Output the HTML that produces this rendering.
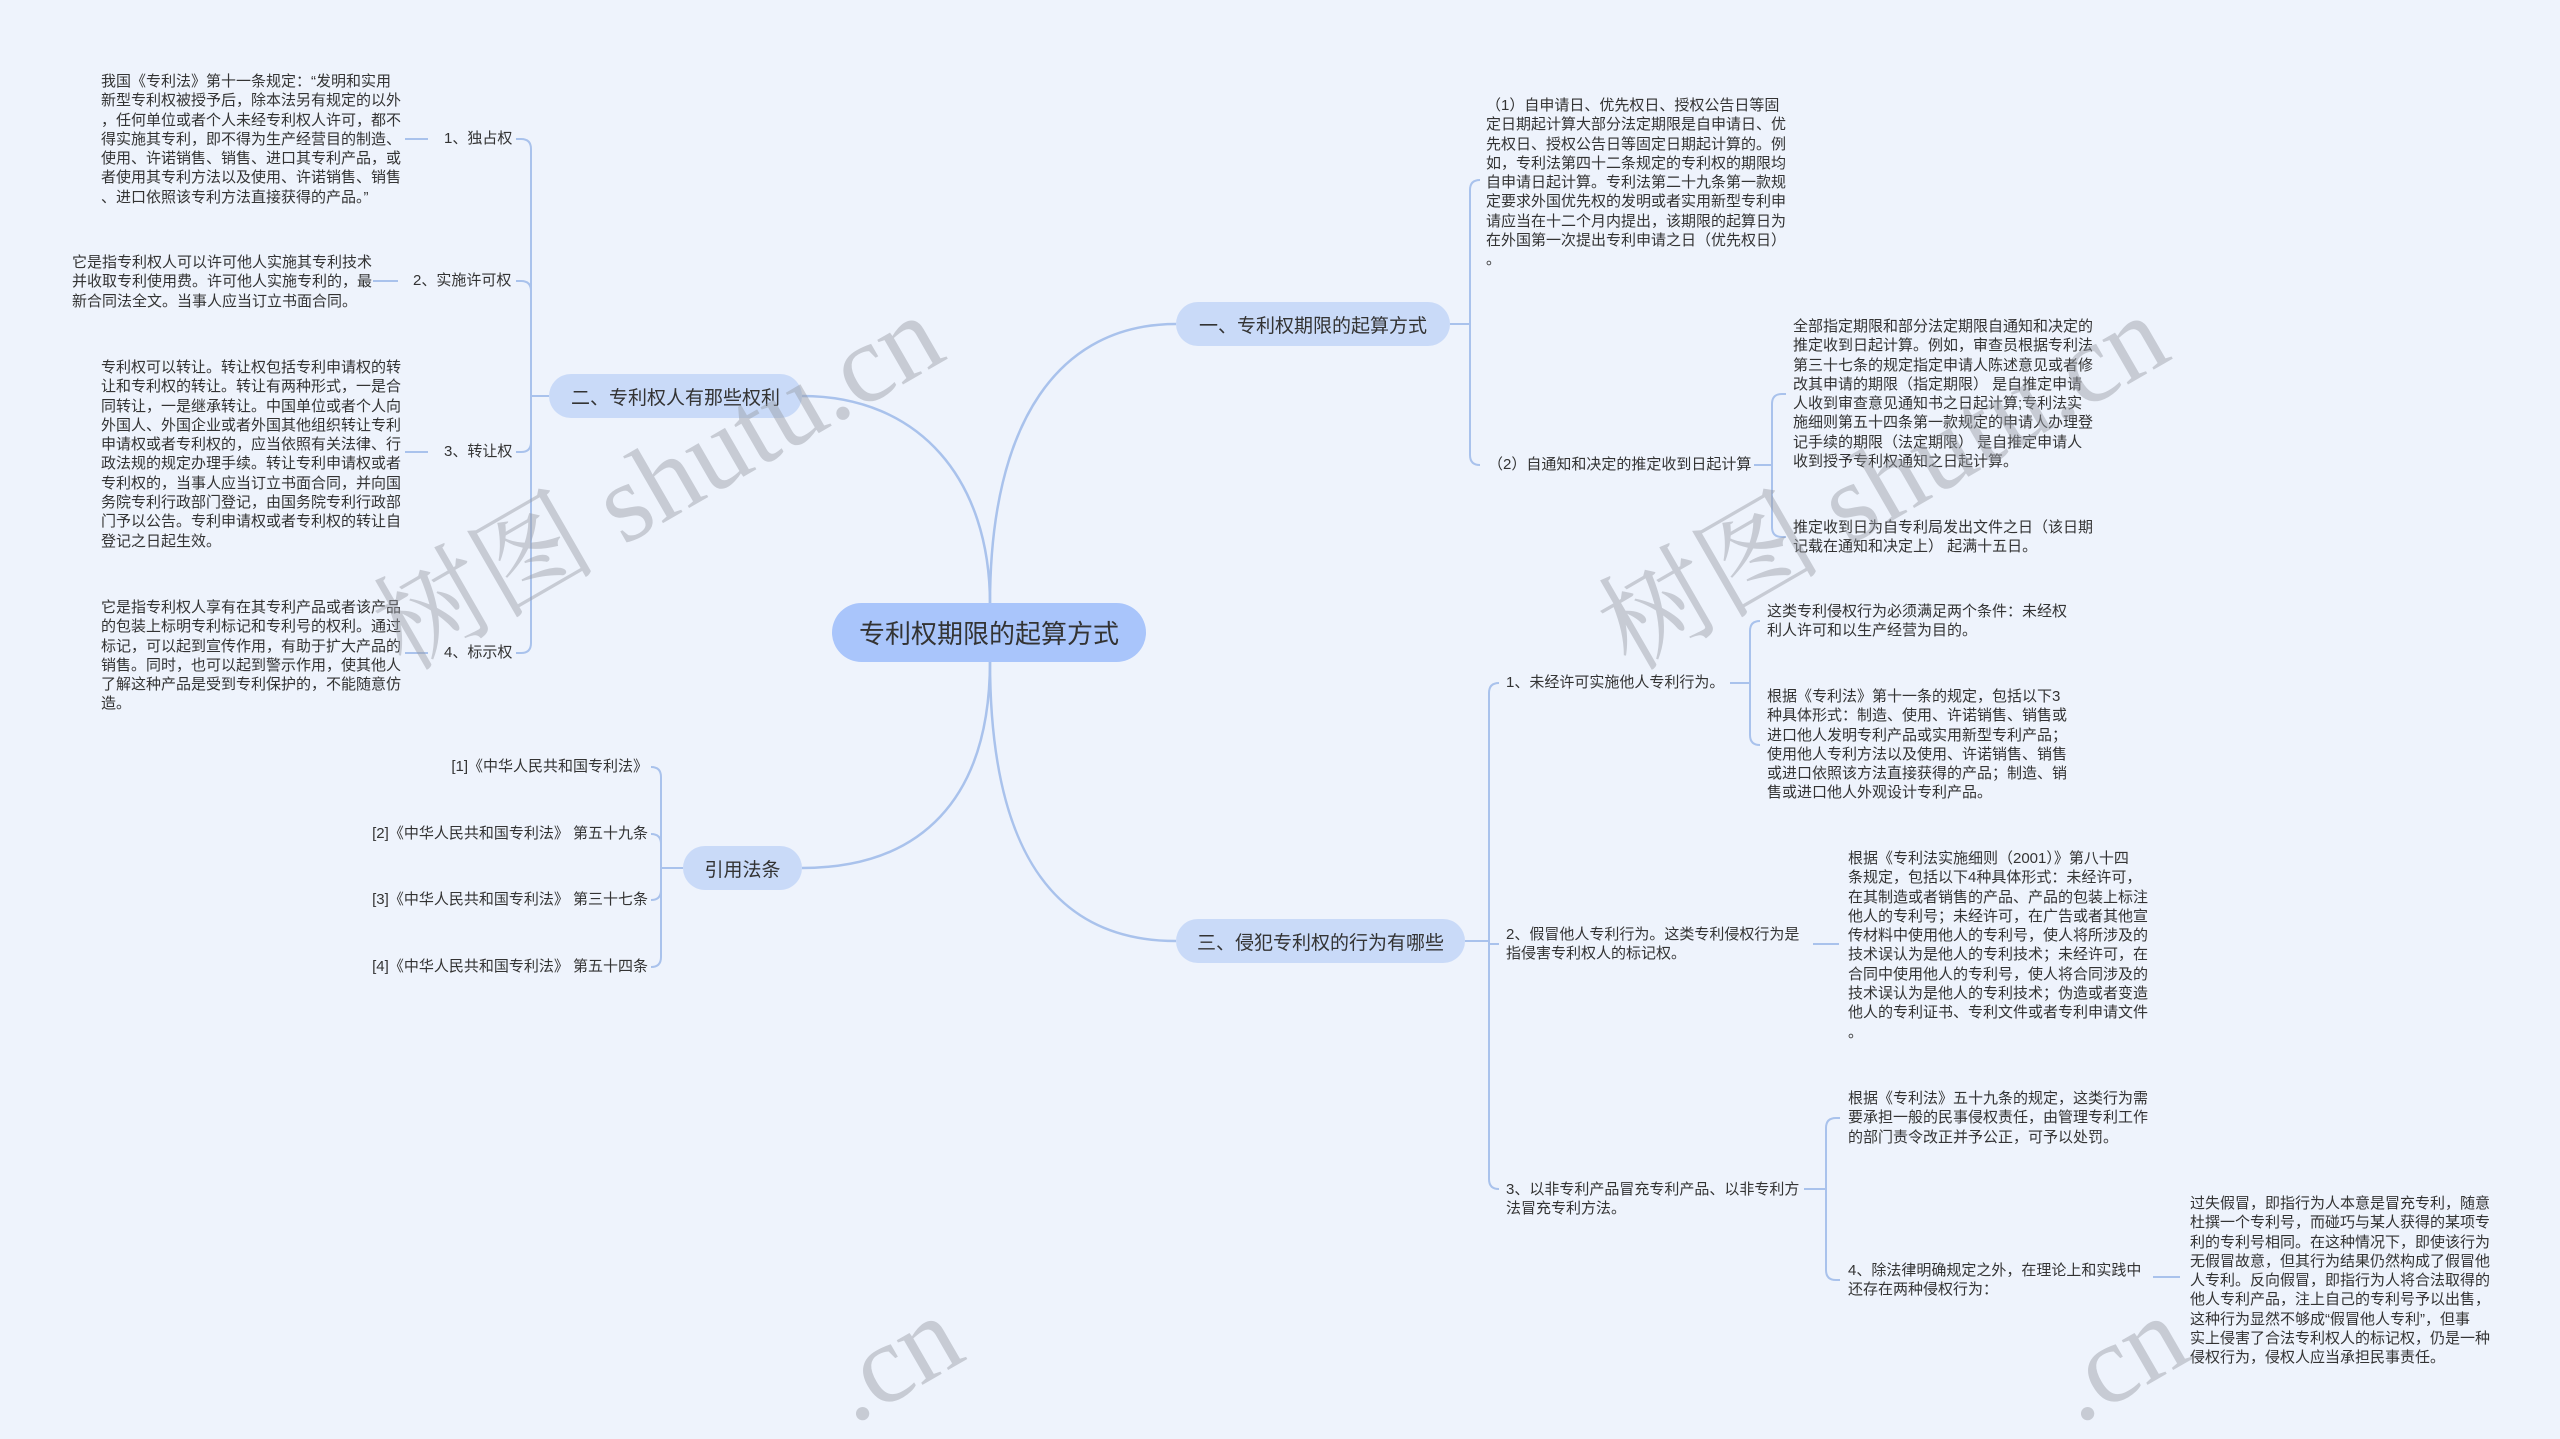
<!DOCTYPE html>
<html><head><meta charset="utf-8"><style>
html{margin:0;padding:0;width:2560px;height:1439px;overflow:hidden}
body{margin:0;padding:0;width:2560px;height:1439px;background:#eef3fc;position:relative;overflow:hidden;font-family:"Liberation Sans","Noto Sans CJK SC",sans-serif;color:#333}
#wrap{position:absolute;left:0;top:0;width:2560px;height:1439px;overflow:hidden}
.t{position:absolute;font-size:15px;line-height:19.3px;white-space:nowrap}
.r{text-align:right}
.n{position:absolute;background:#c9daf8;border-radius:24px;font-size:19px;color:#333;display:flex;align-items:center;justify-content:center;white-space:nowrap}
svg{position:absolute;left:0;top:0}
</style></head><body><div id="wrap">
<svg width="2560" height="1439" fill="none" stroke="#a9c2ec" stroke-width="2.5">
<path d="M990,604 C990,420 1060,324 1176,324"/>
<path d="M990,661 C990,860 1060,941 1176,941"/>
<path d="M990,604 C990,480 920,396 802,396"/>
<path d="M990,661 C990,800 920,868 802,868"/>
<g stroke-width="2">
<path d="M549,396 H531 V149 Q531,139 521,139 H516"/>
<path d="M531,396 V291 Q531,281 521,281 H516"/>
<path d="M531,396 V442 Q531,452 521,452 H516"/>
<path d="M531,396 V643 Q531,653 521,653 H516"/>
<path d="M405,139 H428 M373,281 H398 M405,452 H428 M405,653 H428"/>
<path d="M683,868 H661 V777 Q661,767 651,767"/>
<path d="M661,868 V844 Q661,834 651,834"/>
<path d="M661,868 V890 Q661,900 651,900"/>
<path d="M661,868 V957 Q661,967 651,967"/>
<path d="M1450,324 H1470 V190 Q1470,180 1480,180"/>
<path d="M1470,324 V455 Q1470,465 1480,465"/>
<path d="M1754,465 H1772 V404 Q1772,394 1782,394 H1786"/>
<path d="M1772,465 V527 Q1772,537 1782,537 H1786"/>
<path d="M1465,941 H1489 V693 Q1489,683 1499,683"/>
<path d="M1489,941 V944 H1499"/>
<path d="M1489,941 V1179 Q1489,1189 1499,1189"/>
<path d="M1730,683 H1750 V631 Q1750,621 1760,621"/>
<path d="M1750,683 V735 Q1750,745 1760,745"/>
<path d="M1813,944 H1839"/>
<path d="M1804,1189 H1826 V1128 Q1826,1118 1836,1118 H1840"/>
<path d="M1826,1189 V1270 Q1826,1280 1836,1280 H1840"/>
<path d="M2153,1277 H2180"/>
</g>
</svg>

<div class="n" style="left:832px;top:603px;width:314px;height:59px;border-radius:30px;background:#a9c5fb;font-size:26px">专利权期限的起算方式</div>
<div class="n" style="left:1176px;top:302px;width:274px;height:44px">一、专利权期限的起算方式</div>
<div class="n" style="left:549px;top:374px;width:253px;height:44px">二、专利权人有那些权利</div>
<div class="n" style="left:683px;top:846px;width:119px;height:44px">引用法条</div>
<div class="n" style="left:1176px;top:919px;width:289px;height:44px">三、侵犯专利权的行为有哪些</div>

<div class="t" style="left:101px;top:72px">我国《专利法》第十一条规定：“发明和实用<br>新型专利权被授予后，除本法另有规定的以外<br>，任何单位或者个人未经专利权人许可，都不<br>得实施其专利，即不得为生产经营目的制造、<br>使用、许诺销售、销售、进口其专利产品，或<br>者使用其专利方法以及使用、许诺销售、销售<br>、进口依照该专利方法直接获得的产品。”</div>
<div class="t" style="left:444px;top:129px">1、独占权</div>
<div class="t" style="left:72px;top:253px">它是指专利权人可以许可他人实施其专利技术<br>并收取专利使用费。许可他人实施专利的，最<br>新合同法全文。当事人应当订立书面合同。</div>
<div class="t" style="left:413px;top:271px">2、实施许可权</div>
<div class="t" style="left:101px;top:358px">专利权可以转让。转让权包括专利申请权的转<br>让和专利权的转让。转让有两种形式，一是合<br>同转让，一是继承转让。中国单位或者个人向<br>外国人、外国企业或者外国其他组织转让专利<br>申请权或者专利权的，应当依照有关法律、行<br>政法规的规定办理手续。转让专利申请权或者<br>专利权的，当事人应当订立书面合同，并向国<br>务院专利行政部门登记，由国务院专利行政部<br>门予以公告。专利申请权或者专利权的转让自<br>登记之日起生效。</div>
<div class="t" style="left:444px;top:442px">3、转让权</div>
<div class="t" style="left:101px;top:598px">它是指专利权人享有在其专利产品或者该产品<br>的包装上标明专利标记和专利号的权利。通过<br>标记，可以起到宣传作用，有助于扩大产品的<br>销售。同时，也可以起到警示作用，使其他人<br>了解这种产品是受到专利保护的，不能随意仿<br>造。</div>
<div class="t" style="left:444px;top:643px">4、标示权</div>

<div class="t r" style="right:1912px;top:757px">[1]《中华人民共和国专利法》</div>
<div class="t r" style="right:1912px;top:824px">[2]《中华人民共和国专利法》 第五十九条</div>
<div class="t r" style="right:1912px;top:890px">[3]《中华人民共和国专利法》 第三十七条</div>
<div class="t r" style="right:1912px;top:957px">[4]《中华人民共和国专利法》 第五十四条</div>

<div class="t" style="left:1486px;top:96px">（1）自申请日、优先权日、授权公告日等固<br>定日期起计算大部分法定期限是自申请日、优<br>先权日、授权公告日等固定日期起计算的。例<br>如，专利法第四十二条规定的专利权的期限均<br>自申请日起计算。专利法第二十九条第一款规<br>定要求外国优先权的发明或者实用新型专利申<br>请应当在十二个月内提出，该期限的起算日为<br>在外国第一次提出专利申请之日（优先权日）<br>。</div>
<div class="t" style="left:1488px;top:455px">（2）自通知和决定的推定收到日起计算</div>
<div class="t" style="left:1793px;top:317px">全部指定期限和部分法定期限自通知和决定的<br>推定收到日起计算。例如，审查员根据专利法<br>第三十七条的规定指定申请人陈述意见或者修<br>改其申请的期限（指定期限） 是自推定申请<br>人收到审查意见通知书之日起计算;专利法实<br>施细则第五十四条第一款规定的申请人办理登<br>记手续的期限（法定期限） 是自推定申请人<br>收到授予专利权通知之日起计算。</div>
<div class="t" style="left:1793px;top:518px">推定收到日为自专利局发出文件之日（该日期<br>记载在通知和决定上） 起满十五日。</div>

<div class="t" style="left:1506px;top:673px">1、未经许可实施他人专利行为。</div>
<div class="t" style="left:1767px;top:602px">这类专利侵权行为必须满足两个条件：未经权<br>利人许可和以生产经营为目的。</div>
<div class="t" style="left:1767px;top:687px">根据《专利法》第十一条的规定，包括以下3<br>种具体形式：制造、使用、许诺销售、销售或<br>进口他人发明专利产品或实用新型专利产品；<br>使用他人专利方法以及使用、许诺销售、销售<br>或进口依照该方法直接获得的产品；制造、销<br>售或进口他人外观设计专利产品。</div>
<div class="t" style="left:1506px;top:925px">2、假冒他人专利行为。这类专利侵权行为是<br>指侵害专利权人的标记权。</div>
<div class="t" style="left:1848px;top:849px">根据《专利法实施细则（2001）》第八十四<br>条规定，包括以下4种具体形式：未经许可，<br>在其制造或者销售的产品、产品的包装上标注<br>他人的专利号；未经许可，在广告或者其他宣<br>传材料中使用他人的专利号，使人将所涉及的<br>技术误认为是他人的专利技术；未经许可，在<br>合同中使用他人的专利号，使人将合同涉及的<br>技术误认为是他人的专利技术；伪造或者变造<br>他人的专利证书、专利文件或者专利申请文件<br>。</div>
<div class="t" style="left:1506px;top:1180px">3、以非专利产品冒充专利产品、以非专利方<br>法冒充专利方法。</div>
<div class="t" style="left:1848px;top:1089px">根据《专利法》五十九条的规定，这类行为需<br>要承担一般的民事侵权责任，由管理专利工作<br>的部门责令改正并予公正，可予以处罚。</div>
<div class="t" style="left:1848px;top:1261px">4、除法律明确规定之外，在理论上和实践中<br>还存在两种侵权行为：</div>
<div class="t" style="left:2190px;top:1194px">过失假冒，即指行为人本意是冒充专利，随意<br>杜撰一个专利号，而碰巧与某人获得的某项专<br>利的专利号相同。在这种情况下，即使该行为<br>无假冒故意，但其行为结果仍然构成了假冒他<br>人专利。反向假冒，即指行为人将合法取得的<br>他人专利产品，注上自己的专利号予以出售，<br>这种行为显然不够成“假冒他人专利”，但事<br>实上侵害了合法专利权人的标记权，仍是一种<br>侵权行为，侵权人应当承担民事责任。</div>

<svg width="2560" height="1439" style="pointer-events:none">
<g font-family="Liberation Serif, Noto Serif CJK SC, serif" font-size="112" fill="rgba(150,155,165,0.45)">
<text x="405" y="672" transform="rotate(-30 405 672)">树图 shutu.cn</text>
<text x="1630" y="672" transform="rotate(-30 1630 672)">树图 shutu.cn</text>
<text x="853" y="1425" transform="rotate(-30 853 1425)">.cn</text>
<text x="2078" y="1425" transform="rotate(-30 2078 1425)">.cn</text>
</g>
</svg>
</div></body></html>
